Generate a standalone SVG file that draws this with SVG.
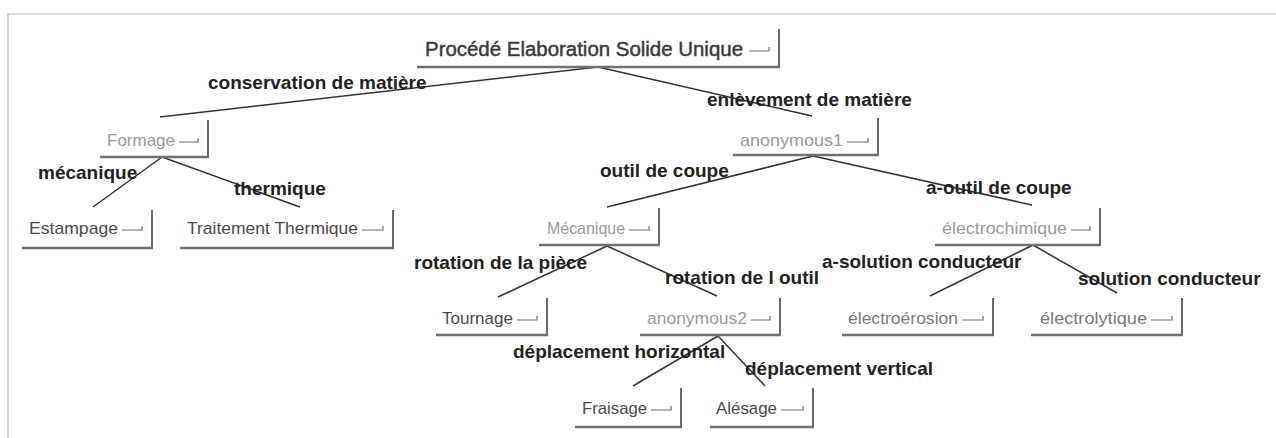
<svg xmlns="http://www.w3.org/2000/svg" width="1276" height="438" viewBox="0 0 1276 438">
<style>
.frame{stroke:#b8b8b8;stroke-width:1.2;fill:none}
.vr{stroke:#6a6a6a;stroke-width:2;fill:none}
.bt{stroke:#707070;stroke-width:2.6;fill:none}
.gl{stroke:#707070;stroke-width:1.2;fill:none}
.edge{stroke:#333;stroke-width:1.5;fill:none}
.lbl{font-family:"Liberation Sans",Arial,sans-serif;font-weight:bold;font-size:19px;fill:#222}
.nd{font-family:"Liberation Sans",Arial,sans-serif;font-size:17px}
.root{font-family:"Liberation Sans",Arial,sans-serif;font-size:20px;fill:#3a3a3a;stroke:#3a3a3a;stroke-width:0.45}
.dk{fill:#4a4a4a}
.lt{fill:#9a9a9a}
.md{fill:#7a7a7a}
</style>
<rect width="1276" height="438" fill="#fff"/>
<path class="frame" d="M8,438 V14 H1276"/>
<g id="connectors">
<line class="edge" x1="598" y1="67" x2="160" y2="117"/>
<line class="edge" x1="598" y1="67" x2="812" y2="116"/>
<line class="edge" x1="162" y1="157" x2="93" y2="207"/>
<line class="edge" x1="162" y1="157" x2="300" y2="207"/>
<line class="edge" x1="813" y1="156" x2="607" y2="207"/>
<line class="edge" x1="813" y1="156" x2="1032" y2="205"/>
<line class="edge" x1="607" y1="246" x2="498" y2="297"/>
<line class="edge" x1="607" y1="246" x2="717" y2="296"/>
<line class="edge" x1="1033" y1="245" x2="930" y2="296"/>
<line class="edge" x1="1033" y1="245" x2="1117" y2="293"/>
<line class="edge" x1="718" y1="336" x2="633" y2="386"/>
<line class="edge" x1="718" y1="336" x2="765" y2="386"/>
<text class="lbl" x="208" y="89">conservation de matière</text>
<text class="lbl" x="707" y="106">enlèvement de matière</text>
<text class="lbl" x="38" y="179">mécanique</text>
<text class="lbl" x="234" y="195">thermique</text>
<text class="lbl" x="600" y="177">outil de coupe</text>
<text class="lbl" x="926" y="194">a-outil de coupe</text>
<text class="lbl" x="414" y="269">rotation de la pièce</text>
<text class="lbl" x="665" y="284">rotation de l outil</text>
<text class="lbl" x="822" y="268">a-solution conducteur</text>
<text class="lbl" x="1078" y="285">solution conducteur</text>
<text class="lbl" x="513" y="358">déplacement horizontal</text>
<text class="lbl" x="745" y="375">déplacement vertical</text>
</g>
<g id="n-root">
<text class="root" x="425" y="56" textLength="318" lengthAdjust="spacingAndGlyphs">Procédé Elaboration Solide Unique</text>
<path class="gl" d="M749,51 H769 V47"/>
<path class="vr" d="M779,29 V67"/>
<path class="bt" d="M417,67 H780"/>
</g>
<g id="n-formage">
<text class="nd lt" x="107" y="146" textLength="68" lengthAdjust="spacingAndGlyphs">Formage</text>
<path class="gl" d="M179,142 H198 V138"/>
<path class="vr" d="M208,120 V157"/>
<path class="bt" d="M100,157 H209"/>
</g>
<g id="n-estampage">
<text class="nd dk" x="29" y="234" textLength="89" lengthAdjust="spacingAndGlyphs">Estampage</text>
<path class="gl" d="M122,230 H142 V226"/>
<path class="vr" d="M152,210 V248"/>
<path class="bt" d="M22,248 H153"/>
</g>
<g id="n-traitement">
<text class="nd dk" x="187" y="234" textLength="171" lengthAdjust="spacingAndGlyphs">Traitement Thermique</text>
<path class="gl" d="M362,230 H383 V226"/>
<path class="vr" d="M393,210 V248"/>
<path class="bt" d="M180,248 H394"/>
</g>
<g id="n-anon1">
<text class="nd lt" x="740" y="146" textLength="103" lengthAdjust="spacingAndGlyphs">anonymous1</text>
<path class="gl" d="M847,142 H868 V138"/>
<path class="vr" d="M878,118 V155"/>
<path class="bt" d="M733,155 H879"/>
</g>
<g id="n-mecanique">
<text class="nd lt" x="547" y="234" textLength="78" lengthAdjust="spacingAndGlyphs">Mécanique</text>
<path class="gl" d="M629,230 H649 V226"/>
<path class="vr" d="M659,208 V245"/>
<path class="bt" d="M539,245 H660"/>
</g>
<g id="n-electrochimique">
<text class="nd lt" x="942" y="234" textLength="125" lengthAdjust="spacingAndGlyphs">électrochimique</text>
<path class="gl" d="M1071,230 H1090 V226"/>
<path class="vr" d="M1100,208 V245"/>
<path class="bt" d="M935,245 H1101"/>
</g>
<g id="n-tournage">
<text class="nd dk" x="442" y="324" textLength="71" lengthAdjust="spacingAndGlyphs">Tournage</text>
<path class="gl" d="M517,320 H537 V316"/>
<path class="vr" d="M547,298 V335"/>
<path class="bt" d="M436,335 H548"/>
</g>
<g id="n-anon2">
<text class="nd lt" x="647" y="324" textLength="100" lengthAdjust="spacingAndGlyphs">anonymous2</text>
<path class="gl" d="M751,320 H770 V316"/>
<path class="vr" d="M780,298 V335"/>
<path class="bt" d="M640,335 H781"/>
</g>
<g id="n-electroerosion">
<text class="nd md" x="848" y="324" textLength="110" lengthAdjust="spacingAndGlyphs">électroérosion</text>
<path class="gl" d="M962,320 H983 V316"/>
<path class="vr" d="M993,298 V335"/>
<path class="bt" d="M842,335 H994"/>
</g>
<g id="n-electrolytique">
<text class="nd md" x="1040" y="324" textLength="107" lengthAdjust="spacingAndGlyphs">électrolytique</text>
<path class="gl" d="M1151,320 H1172 V316"/>
<path class="vr" d="M1182,298 V335"/>
<path class="bt" d="M1031,335 H1183"/>
</g>
<g id="n-fraisage">
<text class="nd dk" x="582" y="414" textLength="65" lengthAdjust="spacingAndGlyphs">Fraisage</text>
<path class="gl" d="M651,410 H671 V406"/>
<path class="vr" d="M681,388 V427"/>
<path class="bt" d="M575,427 H682"/>
</g>
<g id="n-alesage">
<text class="nd dk" x="716" y="414" textLength="61" lengthAdjust="spacingAndGlyphs">Alésage</text>
<path class="gl" d="M781,410 H803 V406"/>
<path class="vr" d="M813,388 V427"/>
<path class="bt" d="M710,427 H814"/>
</g>
</svg>
